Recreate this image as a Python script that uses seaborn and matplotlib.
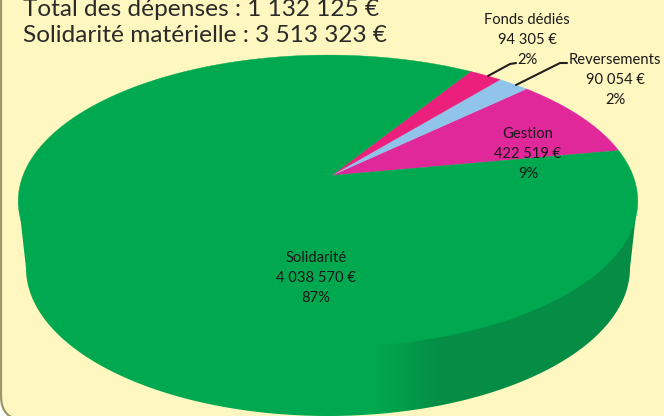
import numpy as np
import matplotlib
matplotlib.use("Agg")
import matplotlib.pyplot as plt
from matplotlib.colors import LinearSegmentedColormap
from matplotlib.patches import FancyBboxPatch, Polygon
from matplotlib.transforms import Affine2D
import seaborn as sns

categories = ["Gestion", "Reversements", "Fonds dédiés", "Solidarité"]
values = [422519, 90054, 94305, 4038570]
amount_labels = ["422 519 €", "90 054 €", "94 305 €", "4 038 570 €"]
percent_labels = ["9%", "2%", "2%", "87%"]
header_lines = ["Total des dépenses : 1 132 125 €", "Solidarité matérielle : 3 513 323 €"]

colors = sns.color_palette(["#E0289A", "#90C4EA", "#EC1F7C", "#00A94F"])
side_dark = "#058C45"
background = "#FEF8C0"

sns.set_theme(style="white")
plt.rcParams["font.family"] = ["Lato", "DejaVu Sans"]

fig = plt.figure(figsize=(6.64, 4.16), dpi=100, facecolor="white")
ax = fig.add_axes([0, 0, 1, 1])

# Slices computed by the library on a unit circle
wedges, _ = ax.pie(values, startangle=10.5, counterclock=True, colors=colors)
unit_polys = []
for w in wedges:
    p = w.get_patch_transform().transform_path(w.get_path())
    unit_polys.append(np.vstack(p.to_polygons(Affine2D().scale(800))) / 800)
    w.remove()

ax.set_aspect("auto")
ax.set_xlim(0, 664)
ax.set_ylim(416, 0)
ax.axis("off")

# Perspective view of the disc
CENTER_X, APEX_SHIFT, APEX_Y, A, B, K = 328, 3.5, 175.5, 305, 141.5, 0.175


def project(xy):
    w = 1 + K * xy[:, 1]
    rim = np.clip(np.hypot(xy[:, 0], xy[:, 1]), 0, 1)
    return np.column_stack([CENTER_X + APEX_SHIFT * (1 - rim ** 2) + A * xy[:, 0] / w,
                            APEX_Y - B * xy[:, 1] / w])


ax.add_patch(FancyBboxPatch((1, -40), 720, 460, boxstyle="round,pad=0,rounding_size=24",
                            fc=background, ec="#9C9668", lw=1.6, zorder=0))

# Side of the disc with a horizontal shading
t = np.linspace(0, -np.pi, 200)
outline = np.vstack([np.column_stack([328 + 302 * np.cos(t), 268 - 148 * np.sin(t)]),
                     [[18.5, 201], [637.5, 201]]])
side_clip = Polygon(outline, closed=True, transform=ax.transData, fc="none", ec="none")
ax.add_patch(side_clip)
cmap = LinearSegmentedColormap.from_list("side", [colors[3], colors[3], side_dark, side_dark])
grad_x = np.linspace(0, 1, 664)
grad = np.interp(grad_x, [0, 375 / 664, 445 / 664, 1], [0, 0.34, 0.67, 1])[None, :]
im = ax.imshow(grad, extent=(0, 664, 416, 0), cmap=cmap, vmin=0, vmax=1, aspect="auto", zorder=1)
im.set_clip_path(side_clip)
ax.set_xlim(0, 664)
ax.set_ylim(416, 0)

for poly, col in zip(unit_polys, colors):
    ax.add_patch(Polygon(project(poly), closed=True, fc=col, ec=col, lw=0.3, zorder=2))

# Leader lines
ink = "#231F20"
ax.plot([488, 510, 516], [76, 64, 63], color=ink, lw=1.5, zorder=3, solid_capstyle="round")
ax.plot([516, 560, 567], [85, 63, 63], color=ink, lw=1.5, zorder=3, solid_capstyle="round")

# Slice labels: (centre x, first baseline)
label_pos = {"Gestion": (528, 137.5), "Reversements": (615, 63.5),
             "Fonds dédiés": (527, 24.5), "Solidarité": (316, 262.5)}
for name, amount, pct in zip(categories, amount_labels, percent_labels):
    x, y = label_pos[name]
    for txt, dy in zip([name, amount, pct], [0, 20, 40]):
        ax.text(x, y + dy, txt, ha="center", va="baseline", fontsize=10.6, color="#1A1718", zorder=4)

# Header
for txt, y in zip(header_lines, [16.5, 42.5]):
    ax.text(23, y, txt, ha="left", va="baseline", fontsize=17.6, color="#2B2A29", zorder=4)

fig.savefig("out.png", dpi=100)
